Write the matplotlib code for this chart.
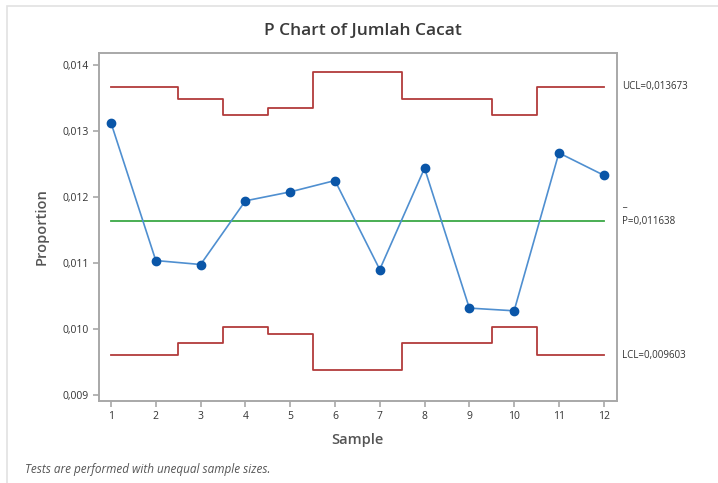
import numpy as np
import matplotlib
matplotlib.use("Agg")
import matplotlib.pyplot as plt
from matplotlib.ticker import FuncFormatter
from matplotlib.patches import Rectangle

# data
sample = [1, 2, 3, 4, 5, 6, 7, 8, 9, 10, 11, 12]
proportion = [0.013126, 0.011039, 0.010979, 0.011944, 0.012080, 0.012252,
              0.010903, 0.012439, 0.010318, 0.010277, 0.012671, 0.012333]
ucl = [0.013673, 0.013673, 0.013489, 0.013242, 0.013358, 0.013903,
       0.013903, 0.013489, 0.013489, 0.013242, 0.013673, 0.013673]
lcl = [0.009603, 0.009603, 0.009787, 0.010034, 0.009918, 0.009373,
       0.009373, 0.009787, 0.009787, 0.010034, 0.009603, 0.009603]
p_bar = 0.011638

plt.rcParams['font.family'] = ['Open Sans', 'DejaVu Sans']

fig = plt.figure(figsize=(7.18, 4.83), dpi=100)
# light outer frame
fig.patches.append(Rectangle((7 / 718, -0.1), 1.2, 1 - 6 / 483 + 0.1,
                             transform=fig.transFigure, fill=False,
                             edgecolor='#e2e2e2', linewidth=1.2))

ax = fig.add_axes([0.1379, 0.1704, 0.7210, 0.7199])

ax.step(sample, ucl, where='mid', color='#b23b3b', linewidth=1.3)
ax.step(sample, lcl, where='mid', color='#b23b3b', linewidth=1.3)
ax.axhline(p_bar, xmin=(1 - 0.732) / (12.29 - 0.732),
           xmax=(12 - 0.732) / (12.29 - 0.732), color='#3aa845', linewidth=1.3)
ax.plot(sample, proportion, color='#4f8fd0', linewidth=1.2, marker='o',
        markersize=6, markerfacecolor='#0a56a8', markeredgecolor='#0a56a8')

ax.set_xlim(0.732, 12.29)
ax.set_ylim(0.008914, 0.014186)
ax.set_xticks(sample)
ax.set_yticks([0.009, 0.010, 0.011, 0.012, 0.013, 0.014])
ax.yaxis.set_major_formatter(FuncFormatter(lambda v, p: f"{v:.3f}".replace('.', ',')))

for s in ax.spines.values():
    s.set_color('#a8a8a8')
    s.set_linewidth(1.4)
ax.tick_params(colors='#a8a8a8', labelcolor='#333333', labelsize=7.5,
               length=4, width=1.2)

ax.set_xlabel("Sample", fontsize=10.5, color='#555555', fontweight='semibold', labelpad=8)
ax.set_ylabel("Proportion", fontsize=10.5, color='#555555', fontweight='semibold', labelpad=10)
fig.text(0.505, 0.935, "P Chart of Jumlah Cacat", ha='center', va='center',
         fontsize=12.5, color='#3a3a3a', fontweight='semibold')

# control limit labels
tx = 12.29 + (622 - 616.7) / 44.8
ax.text(tx, ucl[-1], "UCL=0,013673", fontsize=7, color='#333333', va='center')
ax.text(tx, p_bar, "P=0,011638", fontsize=7, color='#333333', va='center')
ax.text(tx, p_bar + 0.00027, "_", fontsize=7, color='#333333', va='center')
ax.text(tx, lcl[-1], "LCL=0,009603", fontsize=7, color='#333333', va='center')
for t in ax.texts:
    t.set_clip_on(False)

fig.text(25 / 718, 1 - 469 / 483, "Tests are performed with unequal sample sizes.",
         fontsize=8.5, style='italic', color='#555555', va='center')

fig.savefig("out.png", dpi=100)
